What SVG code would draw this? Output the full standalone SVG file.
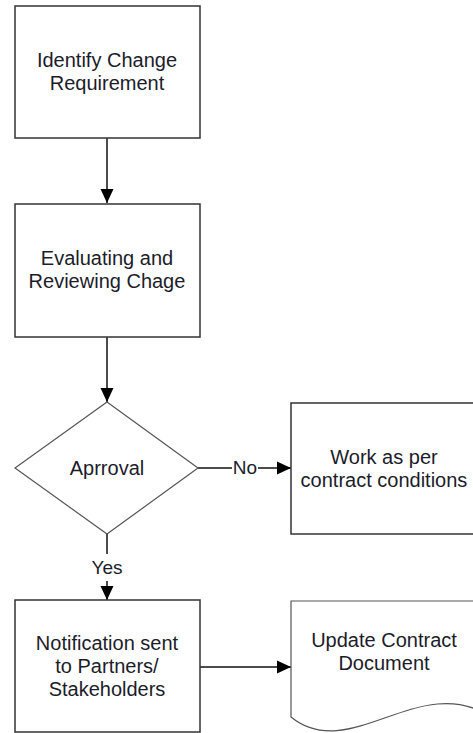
<svg xmlns="http://www.w3.org/2000/svg" width="473" height="733" viewBox="0 0 473 733">
<style>
.box{fill:#fff;stroke:#333;stroke-width:1.5}
.dia{fill:#fff;stroke:#555;stroke-width:1.2}
.t{font-family:"Liberation Sans",Arial,sans-serif;font-size:20px;fill:#1c1c2a;text-anchor:middle}
.c{stroke:#111;stroke-width:1.5;fill:none}
</style>
<defs>
<marker id="ah" markerUnits="userSpaceOnUse" markerWidth="14" markerHeight="14" viewBox="0 0 14 14" refX="14" refY="7" orient="auto">
<path d="M0,0.5 L14,7 L0,13.5 Z" fill="#000"/>
</marker>
</defs>
<rect width="473" height="733" fill="#fff"/>
<g id="connectors">
<line class="c" x1="107" y1="138" x2="107" y2="203" marker-end="url(#ah)"/>
<line class="c" x1="107" y1="337" x2="107" y2="402" marker-end="url(#ah)"/>
<line class="c" x1="198" y1="468" x2="232" y2="468"/>
<line class="c" x1="258" y1="468" x2="291" y2="468" marker-end="url(#ah)"/>
<text class="t" x="245" y="474" style="font-size:19px">No</text>
<line class="c" x1="107" y1="534" x2="107" y2="554"/>
<line class="c" x1="107" y1="581" x2="107" y2="600" marker-end="url(#ah)"/>
<text class="t" x="107" y="574" style="font-size:19px">Yes</text>
<line class="c" x1="200" y1="667" x2="291" y2="667" marker-end="url(#ah)"/>
</g>
<g id="identify">
<rect class="box" x="15" y="6" width="185" height="132"/>
<text class="t" x="107" y="67">Identify Change</text>
<text class="t" x="107" y="90">Requirement</text>
</g>
<g id="evaluate">
<rect class="box" x="15" y="204" width="185" height="133"/>
<text class="t" x="107" y="265">Evaluating and</text>
<text class="t" x="107" y="288">Reviewing Chage</text>
</g>
<g id="approval">
<polygon class="dia" points="107,402 198,468 107,534 15,468"/>
<text class="t" x="107" y="475">Aprroval</text>
</g>
<g id="work">
<rect class="box" x="291" y="403" width="195" height="131"/>
<text class="t" x="384" y="464">Work as per</text>
<text class="t" x="384" y="487">contract conditions</text>
</g>
<g id="notification">
<rect class="box" x="15" y="600" width="185" height="132"/>
<text class="t" x="107" y="650">Notification sent</text>
<text class="t" x="107" y="673">to Partners/</text>
<text class="t" x="107" y="696">Stakeholders</text>
</g>
<g id="update">
<path class="dia" d="M291,717 L291,601 L491,601 L491,717 C420,670 350,765 291,717 Z"/>
<text class="t" x="384" y="647">Update Contract</text>
<text class="t" x="384" y="670">Document</text>
</g>
</svg>
